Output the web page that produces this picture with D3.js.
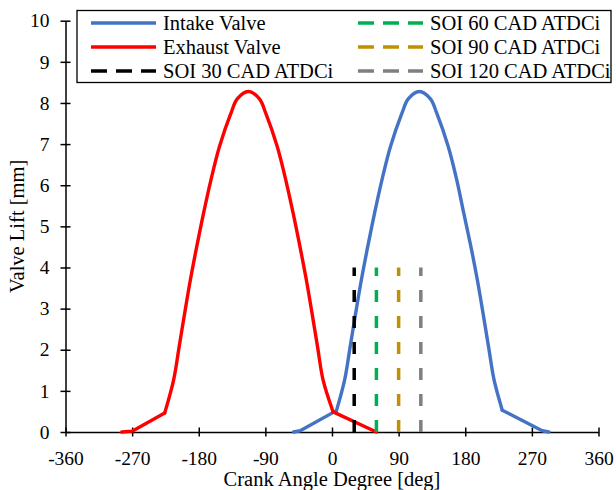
<!DOCTYPE html>
<html>
<head>
<meta charset="utf-8">
<script src="https://cdn.jsdelivr.net/npm/d3@7"></script>
<style>
  body { margin: 0; background: #fff; }
  svg text { font-family: "Liberation Serif", "Times New Roman", serif; fill: #000; }
</style>
</head>
<body>
<svg id="chart" width="616" height="490"></svg>
<script>
// values
const xTicks = [-360, -270, -180, -90, 0, 90, 180, 270, 360];
const yTicks = [0, 1, 2, 3, 4, 5, 6, 7, 8, 9, 10];

// intake valve: linear ramps at both ends, smooth bell in between
const intakeCA = [-52, -43, 6, 17, 24.5, 32, 39.7, 48.2, 57.5, 67.5, 79, 94.5, 103, 118,
  133, 141.5, 157, 168.5, 178, 187.7, 196.3, 204, 211.5, 219, 230, 284, 293];
const intakeLift = [0, 0.03, 0.52, 1.26, 2.07, 2.89, 3.7, 4.5, 5.32, 6.13, 6.94, 7.75, 8.1, 8.28,
  8.1, 7.75, 6.94, 6.13, 5.32, 4.5, 3.7, 2.89, 2.07, 1.26, 0.53, 0.03, 0];
const intakeKinks = [2, 24]; // indices where the ramps meet the bell

const exhaustCA = [-284, -270, -226, -214, -206.5, -199, -191.3, -182.8, -173.5, -163.5, -152, -136.5, -128, -113,
  -98, -89.5, -74, -62.5, -52.5, -43.2, -34.7, -27, -19.5, -12, 1.5, 60];
const exhaustLift = [0, 0.02, 0.46, 1.26, 2.07, 2.89, 3.7, 4.5, 5.32, 6.13, 6.94, 7.75, 8.1, 8.28,
  8.1, 7.75, 6.94, 6.13, 5.32, 4.5, 3.7, 2.89, 2.07, 1.26, 0.49, 0];
const exhaustKinks = [2, 24];

const soiAngles = [30, 60, 90, 120];
const soiHeight = [0, 4];

const seriesNames = ["Intake Valve", "Exhaust Valve", "SOI 30 CAD ATDCi",
  "SOI 60 CAD ATDCi", "SOI 90 CAD ATDCi", "SOI 120 CAD ATDCi"];
const seriesColors = ["#4472C4", "#FF0000", "#000000", "#00B050", "#BF9000", "#7F7F7F"];

const svg = d3.select("#chart");
const x = d3.scaleLinear().domain([-360, 360]).range([65.5, 598.5]);
const y = d3.scaleLinear().domain([0, 10]).range([432, 20.7]);

const straight = d3.line()
  .x((d) => x(d[0]))
  .y((d) => y(d[1]));
const smooth = d3.line()
  .x((d) => x(d[0]))
  .y((d) => y(d[1]))
  .curve(d3.curveCatmullRom.alpha(0.5));

// axes
const xAxis = svg.append("g")
  .attr("transform", `translate(0, ${y(0)})`)
  .call(d3.axisBottom(x).tickValues(xTicks).tickSize(0).tickPadding(19).tickFormat(d3.format("d")));
xAxis.select(".domain").attr("stroke", "#000").attr("stroke-width", 1.5);
xAxis.selectAll(".tick line").attr("y1", -4.5).attr("y2", 4.5).attr("stroke-width", 1.5);
xAxis.selectAll(".tick text")
  .style("font-family", '"Liberation Serif", serif')
  .attr("font-size", 19.5)
  .text((d) => d < 0 ? "-" + Math.abs(d) : d);

const yAxis = svg.append("g")
  .attr("transform", `translate(${x(-360)}, 0)`)
  .call(d3.axisLeft(y).tickValues(yTicks).tickSize(0).tickPadding(16));
yAxis.select(".domain").attr("stroke", "#000").attr("stroke-width", 1.5);
yAxis.selectAll(".tick line").attr("x1", -5).attr("x2", 5).attr("stroke-width", 1.5);
yAxis.selectAll(".tick text")
  .style("font-family", '"Liberation Serif", serif')
  .attr("font-size", 19.5);

// axis titles
svg.append("text")
  .attr("x", (x(-360) + x(360)) / 2)
  .attr("y", 486)
  .attr("text-anchor", "middle")
  .attr("font-size", 20.5)
  .text("Crank Angle Degree [deg]");

svg.append("text")
  .attr("transform", "rotate(-90)")
  .attr("x", -(y(0) + y(10)) / 2)
  .attr("y", 24)
  .attr("text-anchor", "middle")
  .attr("font-size", 20.5)
  .text("Valve Lift [mm]");

// valve curves: ramps drawn straight, the lift bell smoothed
function drawValve(ca, lift, kinks, color) {
  const pts = ca.map((c, i) => [c, lift[i]]);
  const parts = [
    [straight, pts.slice(0, kinks[0] + 1)],
    [smooth, pts.slice(kinks[0], kinks[1] + 1)],
    [straight, pts.slice(kinks[1])],
  ];
  const g = svg.append("g");
  parts.forEach(([gen, seg]) => {
    g.append("path")
      .datum(seg)
      .attr("d", gen)
      .attr("fill", "none")
      .attr("stroke", color)
      .attr("stroke-width", 3.4)
      .attr("stroke-linejoin", "round")
      .attr("stroke-linecap", "round");
  });
}
drawValve(intakeCA, intakeLift, intakeKinks, seriesColors[0]);
drawValve(exhaustCA, exhaustLift, exhaustKinks, seriesColors[1]);

// SOI markers (drawn bottom up so dashes start at zero)
soiAngles.forEach((a, i) => {
  svg.append("path")
    .datum(soiHeight.map((h) => [a, h]))
    .attr("d", straight)
    .attr("fill", "none")
    .attr("stroke", seriesColors[i + 2])
    .attr("stroke-width", 3.5)
    .attr("stroke-dasharray", "12,14");
});

// legend
const legend = svg.append("g");
legend.append("rect")
  .attr("x", 77).attr("y", 10.5)
  .attr("width", 534).attr("height", 72)
  .attr("fill", "#fff")
  .attr("stroke", "#000")
  .attr("stroke-width", 1.3);

const rowY = [23, 47, 71];
seriesNames.forEach((name, i) => {
  const col = i < 3 ? 0 : 1;
  const row = col === 0 ? i : i - 3;
  const x0 = col === 0 ? 91 : 358;
  const g = legend.append("g").attr("transform", `translate(${x0}, ${rowY[row]})`);
  g.append("line")
    .attr("x1", 0).attr("x2", 65)
    .attr("stroke", seriesColors[i])
    .attr("stroke-width", 3.5)
    .attr("stroke-dasharray", i < 2 ? null : "16,9");
  g.append("text")
    .attr("x", 72)
    .attr("dy", "0.35em")
    .attr("font-size", 20.5)
    .text(name);
});
</script>
</body>
</html>
